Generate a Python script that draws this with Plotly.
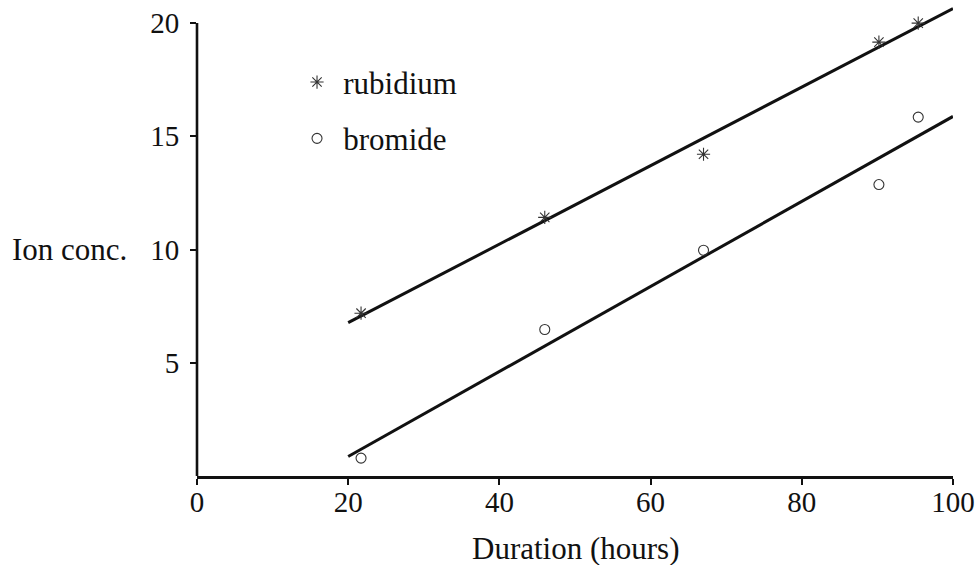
import plotly.graph_objects as go

# Data
hours = [21.7, 46.0, 67.0, 90.2, 95.4]
rubidium = [7.19, 11.42, 14.21, 19.16, 20.0]
bromide = [0.79, 6.47, 9.97, 12.87, 15.85]

fit_x = [20, 100]
rubidium_fit = [6.77, 20.64]
bromide_fit = [0.86, 15.88]

x_ticks = [0, 20, 40, 60, 80, 100]
y_ticks = [5, 10, 15, 20]

FONT = "Liberation Serif"
INK = "#111111"

fig = go.Figure()
fig.add_trace(go.Scatter(x=fit_x, y=rubidium_fit, mode="lines",
                         line=dict(color=INK, width=3), showlegend=False,
                         hoverinfo="skip"))
fig.add_trace(go.Scatter(x=fit_x, y=bromide_fit, mode="lines",
                         line=dict(color=INK, width=3), showlegend=False,
                         hoverinfo="skip"))
fig.add_trace(go.Scatter(x=hours, y=rubidium, mode="markers",
                         name="\u2009rubidium", legendgroup="rb",
                         marker=dict(symbol="asterisk-open", size=11,
                                     color="#333333",
                                     line=dict(color="#333333", width=1.1)),
                         cliponaxis=False))
fig.add_trace(go.Scatter(x=hours, y=bromide, mode="markers",
                         name="\u2009bromide", legendgroup="br",
                         marker=dict(symbol="circle-open", size=10,
                                     color="#333333",
                                     line=dict(color="#333333", width=1.1)),
                         cliponaxis=False))

fig.update_layout(
    width=975, height=565,
    margin=dict(l=197, r=22, t=4.6, b=89.3, autoexpand=False),
    paper_bgcolor="white", plot_bgcolor="white",
    font=dict(family=FONT, size=29, color=INK),
    showlegend=True,
    legend=dict(x=0.1323, y=0.893, xanchor="left", yanchor="top",
                bgcolor="rgba(0,0,0,0)", font=dict(size=31),
                tracegroupgap=13, itemsizing="trace"),
    xaxis=dict(range=[0, 100], tickvals=x_ticks, ticks="outside", ticklen=6,
               tickwidth=2, tickcolor=INK, showline=True, linewidth=2.6,
               linecolor=INK, showgrid=False, zeroline=False,
               automargin=False, ticklabelstandoff=-8,
               ticklabeloverflow="allow"),
    yaxis=dict(range=[0, 20.8], tickvals=y_ticks, ticks="outside", ticklen=6,
               tickwidth=2, tickcolor=INK, showline=False, showgrid=False,
               zeroline=False, automargin=False, ticklabelstandoff=5,
               ticklabeloverflow="allow"),
    shapes=[dict(type="line", xref="paper", yref="y", x0=0, x1=0, y0=0, y1=20,
                 line=dict(color=INK, width=2.6))],
    annotations=[
        dict(text="Ion conc.", xref="paper", yref="y",
             x=(10 - 197) / 755.7, y=10, xanchor="left",
             yanchor="middle", showarrow=False,
             font=dict(size=31, family=FONT, color=INK)),
        dict(text="Duration (hours)", xref="paper", yref="paper",
             x=0.5, y=0, xanchor="center", yanchor="middle", yshift=-72,
             showarrow=False, font=dict(size=31, family=FONT, color=INK)),
    ],
)

# remove the browser's default 8px body margin so the 975x565 figure fills the window
fig.write_html("out.html",
               config={"displayModeBar": False},
               post_script="document.body.style.margin='0px';"
                           "document.body.style.overflow='hidden';")
